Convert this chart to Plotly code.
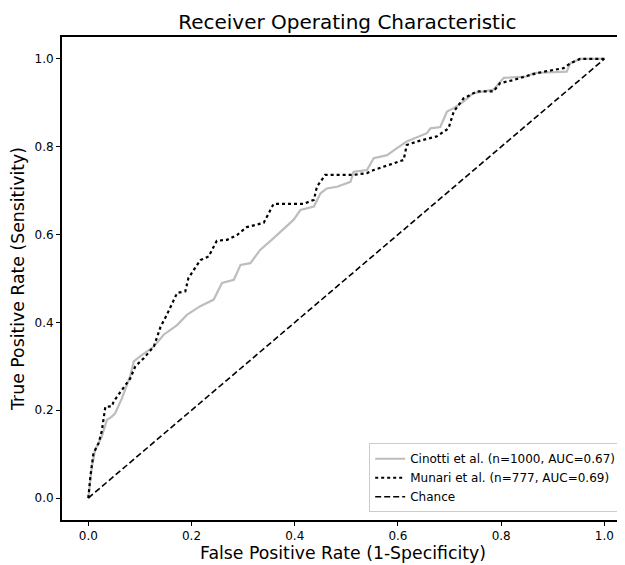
import plotly.graph_objects as go

# Cinotti et al. ROC curve (gray)
cinotti_fpr = [0.0, 0.004, 0.007, 0.013, 0.02, 0.026, 0.036, 0.045, 0.052, 0.065, 0.081, 0.088, 0.101, 0.127, 0.146,
               0.172, 0.191, 0.217, 0.243, 0.259, 0.282, 0.295, 0.314, 0.333, 0.359, 0.398, 0.411, 0.437, 0.45,
               0.462, 0.482, 0.501, 0.508, 0.514, 0.54, 0.553, 0.579, 0.598, 0.617, 0.656, 0.663, 0.682, 0.695,
               0.708, 0.727, 0.746, 0.785, 0.805, 0.85, 0.863, 0.927, 0.934, 0.953, 1.0]
cinotti_tpr = [0.0, 0.04, 0.072, 0.109, 0.125, 0.14, 0.178, 0.185, 0.193, 0.227, 0.277, 0.311, 0.323, 0.345, 0.372,
               0.394, 0.417, 0.437, 0.452, 0.49, 0.497, 0.531, 0.535, 0.565, 0.592, 0.634, 0.656, 0.664, 0.694,
               0.705, 0.709, 0.717, 0.72, 0.743, 0.747, 0.774, 0.781, 0.797, 0.812, 0.831, 0.842, 0.845, 0.88,
               0.888, 0.903, 0.922, 0.93, 0.957, 0.96, 0.968, 0.971, 0.99, 1.0, 1.0]

# Munari et al. ROC curve (dotted)
munari_fpr = [0.0, 0.004, 0.01, 0.02, 0.026, 0.033, 0.046, 0.049, 0.065, 0.081, 0.091, 0.107, 0.127, 0.14, 0.152,
              0.172, 0.188, 0.194, 0.217, 0.233, 0.249, 0.269, 0.288, 0.307, 0.34, 0.353, 0.359, 0.417, 0.437,
              0.443, 0.459, 0.514, 0.54, 0.553, 0.585, 0.611, 0.617, 0.637, 0.676, 0.698, 0.708, 0.727, 0.753,
              0.785, 0.798, 0.824, 0.857, 0.882, 0.921, 0.934, 0.953, 1.0]
munari_tpr = [0.0, 0.049, 0.102, 0.125, 0.152, 0.208, 0.209, 0.22, 0.246, 0.272, 0.3, 0.318, 0.345, 0.39, 0.417,
              0.467, 0.471, 0.501, 0.542, 0.55, 0.586, 0.588, 0.599, 0.617, 0.627, 0.656, 0.67, 0.67, 0.679,
              0.709, 0.736, 0.736, 0.74, 0.747, 0.759, 0.77, 0.804, 0.812, 0.824, 0.842, 0.88, 0.91, 0.926,
              0.926, 0.945, 0.952, 0.964, 0.971, 0.979, 0.99, 1.0, 1.0]

chance = [0.0, 1.0]
tick_vals = [0.0, 0.2, 0.4, 0.6, 0.8, 1.0]

W, H = 617, 557  # page body has an 8px margin inside the 625x565 window

fig = go.Figure()
fig.add_trace(go.Scatter(x=cinotti_fpr, y=cinotti_tpr, mode="lines",
                         line=dict(color="#bdbdbd", width=2.2),
                         name="Cinotti et al. (n=1000, AUC=0.67)"))
fig.add_trace(go.Scatter(x=munari_fpr, y=munari_tpr, mode="lines",
                         line=dict(color="black", width=2.2, dash="dot"),
                         name="Munari et al. (n=777, AUC=0.69)"))
fig.add_trace(go.Scatter(x=chance, y=chance, mode="lines",
                         line=dict(color="black", width=1.6, dash="6px,3px"),
                         name="Chance"))

axis_common = dict(
    tickvals=tick_vals, tickformat=".1f", ticks="outside", ticklen=4, tickwidth=1.3,
    tickcolor="black", showline=True, linecolor="black", linewidth=2, mirror=True,
    showgrid=False, zeroline=False, automargin=False,
    tickfont=dict(family="DejaVu Sans", size=12, color="black"),
)
fig.update_layout(
    width=W, height=H,
    margin=dict(l=54, r=1, t=29, b=45),
    paper_bgcolor="white", plot_bgcolor="white",
    title=dict(text="Receiver Operating Characteristic", x=0.55, xanchor="center",
               y=1 - 14 / H, yanchor="middle", automargin=False,
               font=dict(family="DejaVu Sans", size=20, color="black")),
    xaxis=dict(range=[-0.051, 1.038], title=dict(text="False Positive Rate (1-Specificity)",
               font=dict(family="DejaVu Sans", size=17.3, color="black"), standoff=3), **axis_common),
    yaxis=dict(range=[-0.05, 1.05], title=dict(text="True Positive Rate (Sensitivity)",
               font=dict(family="DejaVu Sans", size=17.3, color="black"), standoff=6), **axis_common),
    legend=dict(x=0.995, y=0.016, xanchor="right", yanchor="bottom",
                bgcolor="rgba(255,255,255,0.8)", bordercolor="#cccccc", borderwidth=1,
                font=dict(family="DejaVu Sans", size=12, color="black"),
                tracegroupgap=0, itemwidth=30),
    showlegend=True,
)

fig.write_html("out.html")
